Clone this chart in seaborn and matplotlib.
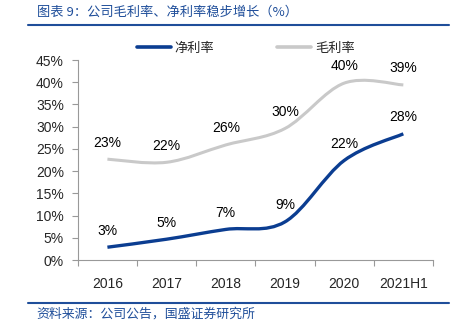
import numpy as np
import pandas as pd
import matplotlib
matplotlib.use("Agg")
import matplotlib.pyplot as plt
import seaborn as sns
from matplotlib.path import Path
from matplotlib.patches import PathPatch
from matplotlib.lines import Line2D

categories = ["2016", "2017", "2018", "2019", "2020", "2021H1"]
net_margin = [2.9, 4.7, 6.9, 8.6, 22.4, 28.4]
gross_margin = [22.7, 22.0, 25.9, 29.6, 39.8, 39.4]
net_labels = ["3%", "5%", "7%", "9%", "22%", "28%"]
gross_labels = ["23%", "22%", "26%", "30%", "40%", "39%"]
yticks = [0, 5, 10, 15, 20, 25, 30, 35, 40, 45]

BLUE = "#0B3D91"
GRAY = "#C9C9C9"
TITLE_BLUE = "#1F4E9A"

sns.set_theme(style="white")
plt.rcParams["font.family"] = ["Liberation Sans", "Noto Sans CJK SC", "DejaVu Sans"]
CJK = ["Noto Sans CJK SC", "DejaVu Sans"]

fig = plt.figure(figsize=(4.66, 3.28), dpi=100)
ax = fig.add_axes([0.167, 0.207, 0.762, 0.610])

df = pd.DataFrame({
    "x": list(range(len(categories))) * 2,
    "v": net_margin + gross_margin,
    "s": ["净利率"] * len(categories) + ["毛利率"] * len(categories),
})
sns.lineplot(data=df, x="x", y="v", hue="s", palette={"净利率": BLUE, "毛利率": GRAY},
             legend=False, ax=ax, linewidth=0)
for ln in list(ax.lines):
    ln.set_visible(False)


def smooth_path(xs, ys, k=1/6):
    pts = np.column_stack([xs, ys]).astype(float)
    n = len(pts)
    verts = [pts[0]]
    codes = [Path.MOVETO]
    for i in range(n - 1):
        p0 = pts[i - 1] if i > 0 else pts[i]
        p1 = pts[i]
        p2 = pts[i + 1]
        p3 = pts[i + 2] if i + 2 < n else pts[i + 1]
        c1 = p1 + (p2 - p0) * k
        c2 = p2 - (p3 - p1) * k
        verts += [c1, c2, p2]
        codes += [Path.CURVE4] * 3
    return Path(verts, codes)


xs = np.arange(len(categories))
ax.add_patch(PathPatch(smooth_path(xs, gross_margin), fill=False, edgecolor=GRAY,
                       linewidth=2.2, capstyle="butt", zorder=3))
ax.add_patch(PathPatch(smooth_path(xs, net_margin), fill=False, edgecolor=BLUE,
                       linewidth=2.4, capstyle="butt", zorder=4))

for x, v, t in zip(xs, gross_margin, gross_labels):
    ax.annotate(t, (x, v), xytext=(0, 12), textcoords="offset points",
                ha="center", va="center", fontsize=10, color="#000000")
for x, v, t in zip(xs, net_margin, net_labels):
    ax.annotate(t, (x, v), xytext=(0, 12), textcoords="offset points",
                ha="center", va="center", fontsize=10, color="#000000")

ax.set_xlim(-0.5, len(categories) - 0.5)
ax.set_ylim(0, 45)
ax.set_yticks(yticks)
ax.set_yticklabels([f"{v}%" for v in yticks], fontsize=10)
ax.set_xticks(xs)
ax.set_xticklabels(categories, fontsize=10)
ax.set_xticks(np.arange(-0.5, len(categories), 1.0), minor=True)
ax.tick_params(axis="x", which="major", length=0, pad=12)
ax.tick_params(axis="x", which="minor", length=4, width=0.8, color="#999999", direction="out", bottom=True)
ax.tick_params(axis="y", which="major", length=4, width=0.8, color="#999999", direction="out", left=True, pad=6)
ax.set_xlabel("")
ax.set_ylabel("")
for s in ["top", "right"]:
    ax.spines[s].set_visible(False)
for s in ["left", "bottom"]:
    ax.spines[s].set_color("#999999")
    ax.spines[s].set_linewidth(0.8)

handles = [Line2D([0], [0], color=BLUE, lw=2.6), Line2D([0], [0], color=GRAY, lw=2.6)]
fig.legend(handles, ["净利率", "毛利率"], loc="center", bbox_to_anchor=(0.527, 0.853),
           ncol=2, frameon=False, prop={"family": CJK, "size": 9.5},
           handlelength=2.6, columnspacing=4.7, handletextpad=0.3)

fig.text(0.079, 0.962, "图表 9：公司毛利率、净利率稳步增长（%）", family=CJK, style="italic",
         fontsize=9.5, color=TITLE_BLUE, ha="left", va="center")
fig.add_artist(Line2D([0.06, 0.964], [0.923, 0.923], color=TITLE_BLUE, lw=1.5))
fig.add_artist(Line2D([0.06, 0.964], [0.076, 0.076], color=TITLE_BLUE, lw=1.5))
fig.text(0.079, 0.042, "资料来源：公司公告，国盛证券研究所", family=CJK, style="italic",
         fontsize=9.3, color=TITLE_BLUE, ha="left", va="center")

fig.savefig("out.png", dpi=100)
